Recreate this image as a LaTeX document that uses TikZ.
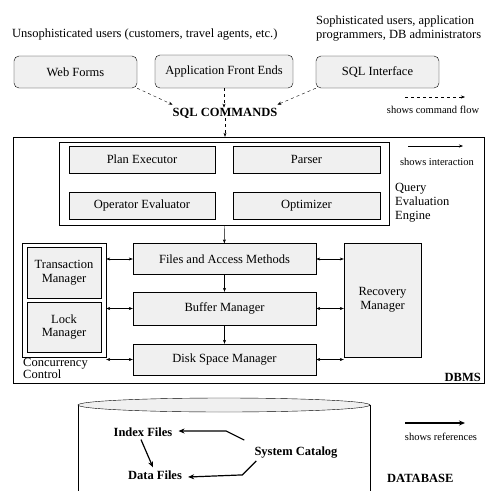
\documentclass[tikz,border=0pt]{standalone}
\usepackage{fontspec}
\setmainfont{Liberation Serif}
\usetikzlibrary{arrows.meta, positioning, calc}
\tikzset{
    base/.style={draw=black, font=\fontsize{12.5}{13.5}\selectfont, align=center, inner sep=2pt},
    block/.style={base, rectangle, fill=gray!12},
    roundblock/.style={block, rounded corners=5pt},
    frame/.style={draw=black, fill=none, inner sep=0pt},
    label/.style={font=\fontsize{12.5}{14}\selectfont, align=left, inner sep=0pt},
    small/.style={font=\fontsize{10.5}{12}\selectfont, inner sep=0pt},
    bold/.style={font=\fontsize{12.5}{13.5}\selectfont\bfseries, inner sep=0pt},
    flow/.style={draw=black, dashed, -{Stealth[length=4pt,width=3pt]}},
    line/.style={draw=black, -{Stealth[length=4pt,width=3pt]}},
    both/.style={draw=black, {Stealth[length=4pt,width=3pt]}-{Stealth[length=4pt,width=3pt]}},
    ref/.style={draw=black, line width=1.2pt, -{Stealth[length=6pt,width=5pt]}}
}

\begin{document}
\begin{tikzpicture}[x=1pt, y=-1pt]
    \useasboundingbox (0,0) rectangle (485,491);

    % users and interfaces
    \node [label, anchor=west] (Naive) at (12,35) {Unsophisticated users (customers, travel agents, etc.)};
    \node [label, anchor=west] (Expert) at (316,29) {Sophisticated users, application\\programmers, DB administrators};
    \node [roundblock, minimum width=123pt, minimum height=32pt] (Web) at (75.5,72) {Web Forms};
    \node [roundblock, minimum width=138pt, minimum height=33pt] (App) at (224,71.5) {Application Front Ends};
    \node [roundblock, minimum width=123pt, minimum height=32pt] (Sql) at (377.5,72) {SQL Interface};
    \node [bold] (Cmd) at (225,113) {SQL COMMANDS};

    \draw [flow] (Web.south east) -- ($(Cmd.north west)+(0,-3)$);
    \draw [flow] (App) -- (App.south |- Cmd.north);
    \draw [flow] (Sql.south west) -- ($(Cmd.north east)+(0,-3)$);

    % DBMS
    \node [frame, minimum width=471pt, minimum height=246pt] (Dbms) at (248.5,260) {};
    \node [bold, anchor=south east] (DbmsLabel) at (481,382) {DBMS};
    \draw [flow] (Cmd) -- (Cmd.south |- Dbms.north);

    \node [frame, minimum width=330pt, minimum height=83pt] (Engine) at (224,183.5) {};
    \node [block, minimum width=146pt, minimum height=27pt] (Plan) at (142,159.5) {Plan Executor};
    \node [block, minimum width=147pt, minimum height=27pt] (Parser) at (306.5,159.5) {Parser};
    \node [block, minimum width=146pt, minimum height=27pt] (Operator) at (142,205.5) {Operator Evaluator};
    \node [block, minimum width=147pt, minimum height=27pt] (Optimizer) at (306.5,205.5) {Optimizer};
    \node [label, anchor=north west] (EngineLabel) at (395,183) {Query\\Evaluation\\Engine};

    \node [block, minimum width=183pt, minimum height=31pt] (Files) at (224.5,259) {Files and Access Methods};
    \node [block, minimum width=183pt, minimum height=33pt] (Buffer) at (224.5,308.5) {Buffer Manager};
    \node [block, minimum width=183pt, minimum height=31pt] (Disk) at (224.5,359.5) {Disk Space Manager};

    \node [frame, minimum width=84pt, minimum height=114pt] (Control) at (64,300) {};
    \node [block, minimum width=74pt, minimum height=51pt] (Trans) at (64,272.5) {Transaction\\Manager};
    \node [block, minimum width=74pt, minimum height=50pt] (Lock) at (64,327) {Lock\\Manager};
    \node [label, anchor=north west, font=\fontsize{12.5}{12}\selectfont] (ControlLabel) at (23,358) {Concurrency\\Control};
    \node [block, minimum width=77pt, minimum height=114pt] (Recovery) at (382.5,300) {Recovery\\Manager};

    \draw [line] (Engine) -- (Files);
    \draw [line] (Files) -- (Buffer);
    \draw [line] (Buffer) -- (Disk);
    \draw [both] (Control.east |- Files) -- (Files.west);
    \draw [both] (Control.east |- Buffer) -- (Buffer.west);
    \draw [both] (Control.east |- Disk) -- (Disk.west);
    \draw [both] (Files.east) -- (Recovery.west |- Files);
    \draw [both] (Buffer.east) -- (Recovery.west |- Buffer);
    \draw [both] (Disk.east) -- (Recovery.west |- Disk);

    % legend
    \coordinate (FlowA) at (405,97);
    \coordinate (FlowB) at (465,97);
    \draw [flow] (FlowA) -- (FlowB);
    \node [small] (FlowText) at (433,110) {shows command flow};
    \coordinate (TalkA) at (408,146);
    \coordinate (TalkB) at (463,146);
    \draw [line] (TalkA) -- (TalkB);
    \node [small] (TalkText) at (437,162) {shows interaction};
    \coordinate (RefA) at (405,423);
    \coordinate (RefB) at (465,423);
    \draw [ref] (RefA) -- (RefB);
    \node [small] (RefText) at (441,437) {shows references};

    % database
    \fill [white] (78,405) rectangle (370,491);
    \draw (78,491) -- (78,405) (370,405) -- (370,491);
    \draw [fill=gray!12] (224,405) ellipse [x radius=146, y radius=7];
    \node [bold] (Index) at (143,432) {Index Files};
    \node [bold] (Data) at (155,475) {Data Files};
    \node [bold] (Catalog) at (296,453) {System Catalog};
    \node [bold, anchor=west] (DbLabel) at (387,478) {DATABASE};

    \draw [ref] ($(Index.south)+(-2,3)$) -- ($(Data.north)+(-2,-3)$);
    \draw [ref] ($(Catalog.north west)+(-10,-7)$) -- ++(-18,-9) -- ($(Index.east)+(6,-1)$);
    \draw [ref] ($(Catalog.south west)+(2,2)$) -- ++(-14,14) -- ($(Data.east)+(6,2)$);
\end{tikzpicture}
\end{document}
